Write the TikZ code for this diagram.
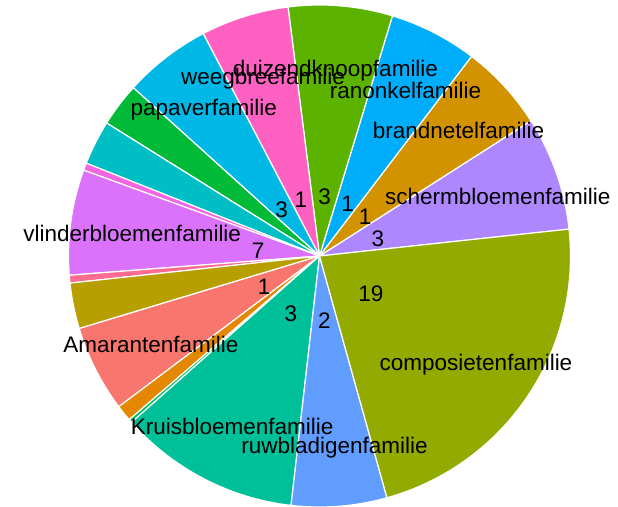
\documentclass[tikz,border=0pt]{standalone}
\usepackage{fontspec}
\setmainfont{Liberation Sans}
\usepackage{tikz}
\usetikzlibrary{positioning}
\definecolor{cScherm}{HTML}{AE87FF}
\definecolor{cBrand}{HTML}{D39200}
\definecolor{cRanonkel}{HTML}{00ADFA}
\definecolor{cDuizend}{HTML}{5BB300}
\definecolor{cWeegbree}{HTML}{FF61C3}
\definecolor{cPapaver}{HTML}{00B8E5}
\definecolor{cGreen}{HTML}{00BA38}
\definecolor{cTeal}{HTML}{00BFC4}
\definecolor{cMagenta}{HTML}{F564E3}
\definecolor{cVlinder}{HTML}{DB72FB}
\definecolor{cPink}{HTML}{FF6C91}
\definecolor{cGold}{HTML}{B79F00}
\definecolor{cAmarant}{HTML}{F8766D}
\definecolor{cOrange}{HTML}{E58700}
\definecolor{cGreenTwo}{HTML}{00BD5C}
\definecolor{cKruis}{HTML}{00C09A}
\definecolor{cRuw}{HTML}{619CFF}
\definecolor{cCompos}{HTML}{93AA00}

\begin{document}
\begin{tikzpicture}[x=1pt, y=1pt,
   slice/.style={fill=#1, draw=white, line width=1.2pt, line join=round},
   famlabel/.style={inner sep=0pt, yshift=-3pt, font=\fontsize{22.5}{27}\selectfont}]
   \useasboundingbox (-319.5,-250) rectangle (298.5,256);

   \foreach \a/\b/\c in {6.15/32.6/cScherm, 32.6/52.7/cBrand, 52.7/73.1/cRanonkel,
         73.1/97.2/cDuizend, 97.2/117.6/cWeegbree, 117.6/137.9/cPapaver,
         137.9/148.0/cGreen, 148.0/158.3/cTeal, 158.3/160.0/cMagenta,
         160.0/184.4/cVlinder, 184.4/186.2/cPink, 186.2/196.8/cGold,
         196.8/216.9/cAmarant, 216.9/220.7/cOrange, 220.7/221.5/cGreenTwo,
         221.5/263.5/cKruis, 263.5/285.6/cRuw, 285.6/366.15/cCompos}
      \path[slice=\c] (0,0) -- (\a:251) arc[start angle=\a, end angle=\b, radius=251] -- cycle;

   \foreach \m/\t/\n [count=\i] in {19.4/schermbloemenfamilie/3, 42.65/brandnetelfamilie/1,
         62.9/ranonkelfamilie/1, 85.15/duizendknoopfamilie/3, 107.4/weegbreefamilie/1,
         127.75/papaverfamilie/3, 172.2/vlinderbloemenfamilie/7, 206.85/Amarantenfamilie/1,
         242.5/Kruisbloemenfamilie/3, 274.55/ruwbladigenfamilie/2, 325.9/composietenfamilie/19}
   {
      \node[famlabel] (num\i) at (\m:62) {\n};
      \node[famlabel] (fam\i) at (\m:189) {\t};
   }
\end{tikzpicture}
\end{document}
